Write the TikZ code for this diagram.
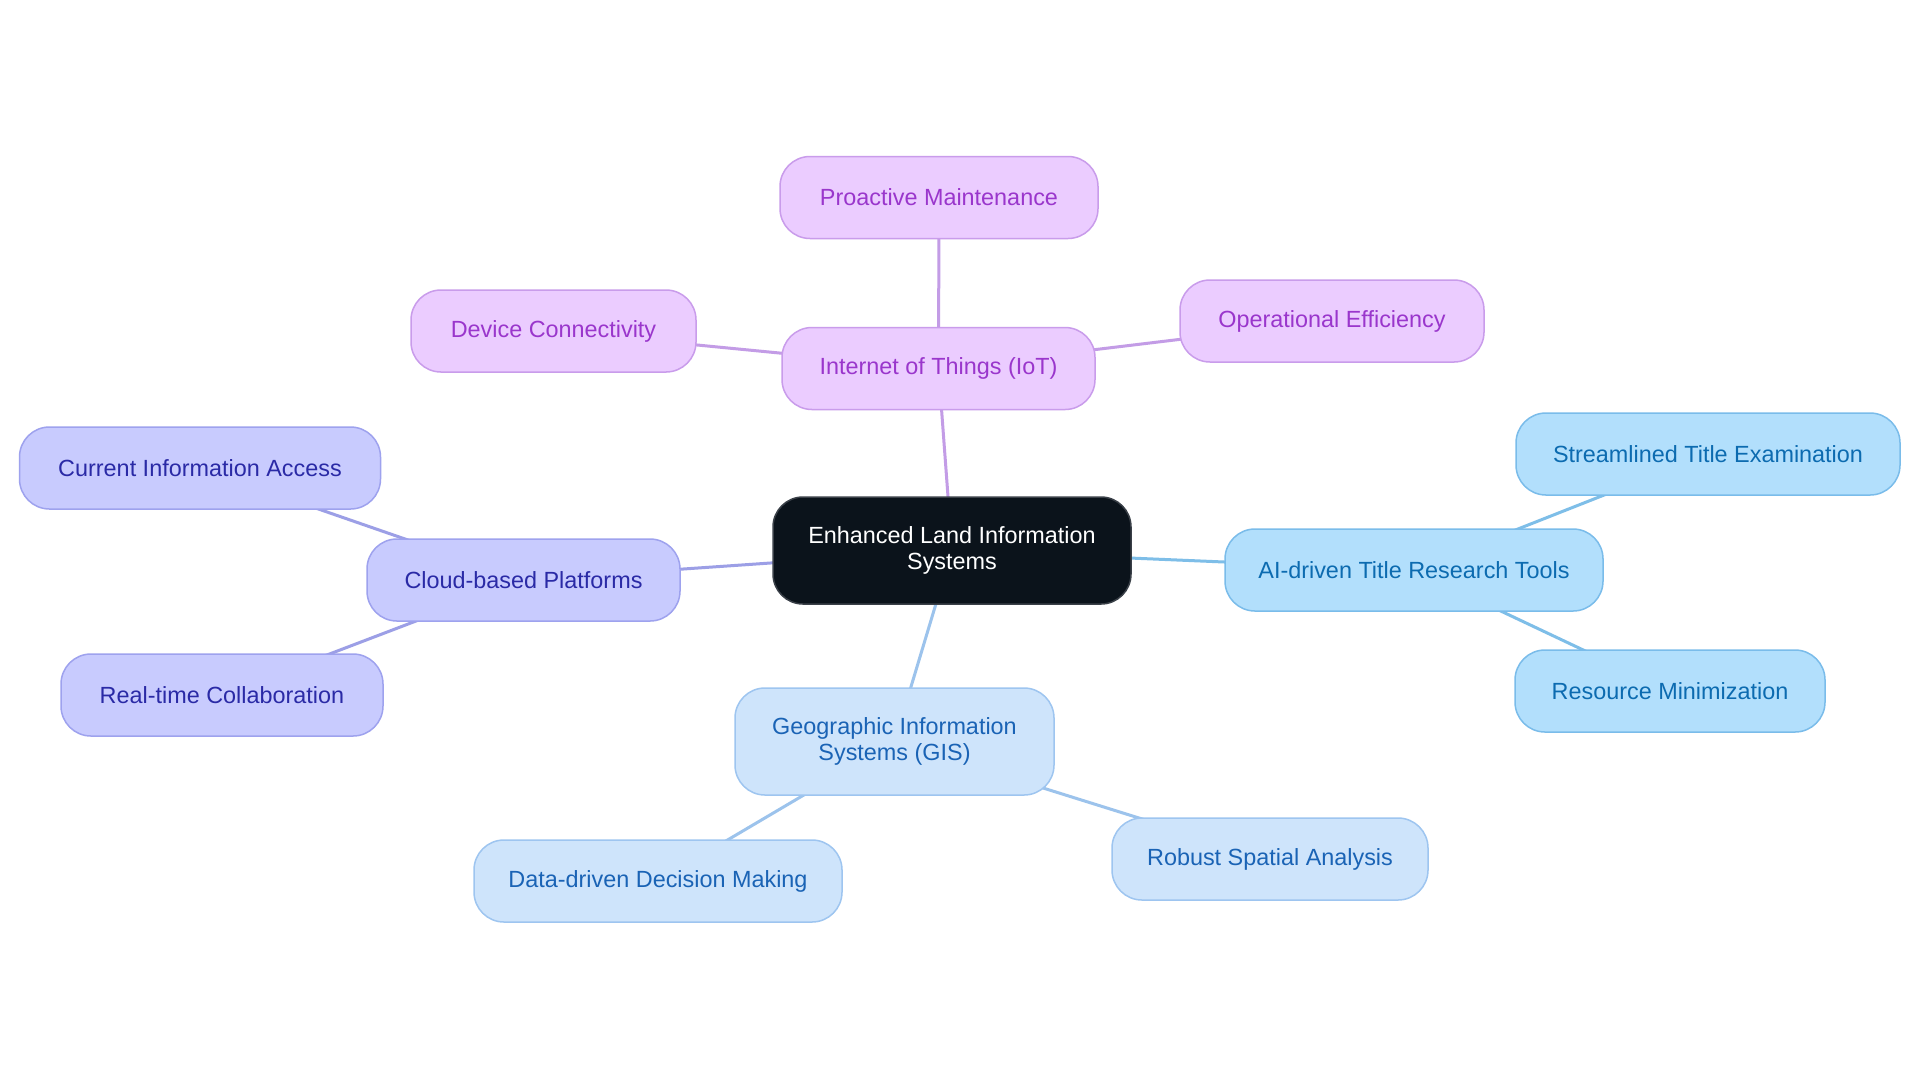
\documentclass[tikz,border=0pt]{standalone}
\usepackage{fontspec}
\setmainfont{Liberation Sans}
\pgfdeclarelayer{background}
\pgfsetlayers{background,main}
\begin{document}
\begin{tikzpicture}[x=0.5pt,y=-0.5pt,
  box/.style={rounded corners=15pt, line width=0.75pt, align=center, minimum height=41pt, inner sep=0pt,
    font={\fontsize{11.7}{12.6}\selectfont}},
  tall/.style={minimum height=53.5pt},
  center/.style={box, tall, fill=cfill, draw=cdraw, text=white},
  iot/.style={box, fill=pfill, draw=pdraw, text=ptext},
  cloud/.style={box, fill=vfill, draw=vdraw, text=vtext},
  ai/.style={box, fill=bfill, draw=bdraw, text=btext},
  gis/.style={box, fill=gfill, draw=gdraw, text=gtext},
  link/.style={line width=1.5pt}
]
\definecolor{cfill}{HTML}{0B131B}
\definecolor{cdraw}{HTML}{3A4048}
\definecolor{pfill}{HTML}{EBCCFF}
\definecolor{pdraw}{HTML}{C99CEB}
\definecolor{ptext}{HTML}{9A36CC}
\definecolor{pline}{HTML}{C39CE6}
\definecolor{vfill}{HTML}{C8CBFE}
\definecolor{vdraw}{HTML}{9EA2EE}
\definecolor{vtext}{HTML}{2A2AA6}
\definecolor{vline}{HTML}{9C9FE6}
\definecolor{bfill}{HTML}{B2DFFC}
\definecolor{bdraw}{HTML}{7ABCEA}
\definecolor{btext}{HTML}{0C6BB0}
\definecolor{bline}{HTML}{7EBEE8}
\definecolor{gfill}{HTML}{CEE4FB}
\definecolor{gdraw}{HTML}{9EC5F0}
\definecolor{gtext}{HTML}{1A63B5}
\definecolor{gline}{HTML}{9CC3EC}

\useasboundingbox (0,0) rectangle (1920,1083);

\node[center, minimum width=179pt] (c) at (952,550.5) {Enhanced Land Information\\Systems};

\node[iot, minimum width=156.5pt] (iot) at (938.5,368.5) {Internet of Things (IoT)};
\node[iot, minimum width=159pt] (pm) at (939,197.5) {Proactive Maintenance};
\node[iot, minimum width=142.5pt] (dc) at (553.5,331) {Device Connectivity};
\node[iot, minimum width=152pt] (oe) at (1332,321) {Operational Efficiency};

\node[cloud, minimum width=156.5pt] (cbp) at (523.5,580) {Cloud-based Platforms};
\node[cloud, minimum width=180.5pt] (cia) at (200,468) {Current Information Access};
\node[cloud, minimum width=161pt] (rtc) at (222,695) {Real-time Collaboration};

\node[ai, minimum width=189pt] (ai) at (1414,570) {AI-driven Title Research Tools};
\node[ai, minimum width=192pt] (ste) at (1708,454) {Streamlined Title Examination};
\node[ai, minimum width=155pt] (rm) at (1670,691) {Resource Minimization};

\node[gis, tall, minimum width=159.5pt] (gis) at (894.5,741.5) {Geographic Information\\Systems (GIS)};
\node[gis, minimum width=184pt] (ddm) at (658,881) {Data-driven Decision Making};
\node[gis, minimum width=158pt] (rsa) at (1270,859) {Robust Spatial Analysis};

\begin{pgfonlayer}{background}
\fill[white] (0,0) rectangle (1920,1083);
\draw[link, pline] (c.center) -- (iot.center);
\draw[link, pline] (iot.center) -- (pm.center);
\draw[link, pline] (iot.center) -- (dc.center);
\draw[link, pline] (iot.center) -- (oe.center);
\draw[link, vline] (c.center) -- (cbp.center);
\draw[link, vline] (cbp.center) -- (cia.center);
\draw[link, vline] (cbp.center) -- (rtc.center);
\draw[link, bline] (c.center) -- (ai.center);
\draw[link, bline] (ai.center) -- (ste.center);
\draw[link, bline] (ai.center) -- (rm.center);
\draw[link, gline] (c.center) -- (gis.center);
\draw[link, gline] (gis.center) -- (ddm.center);
\draw[link, gline] (gis.center) -- (rsa.center);
\end{pgfonlayer}
\end{tikzpicture}
\end{document}
